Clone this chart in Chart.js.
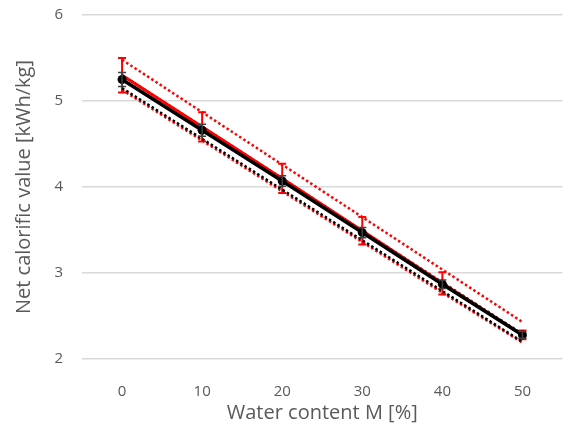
<!DOCTYPE html>
<html>
<head>
<meta charset="utf-8">
<script src="https://cdn.jsdelivr.net/npm/chart.js@4/dist/chart.umd.min.js"></script>
<style>
    html,body{margin:0;padding:0;background:#fff;overflow:hidden;}
    #chartDiv{width:567px;height:423px;position:relative;}
    #graph{display:block;}
</style>
</head>
<body>
<div id="chartDiv"><canvas id="graph"></canvas></div>
<script>
const labels = ["0","10","20","30","40","50"];
const yTicks = [2,3,4,5,6];

// measured series (black) and its band
const blackMean = [5.25, 4.66, 4.07, 3.47, 2.87, 2.28];
const blackErr = [0.08, 0.07, 0.06, 0.06, 0.05, 0.04];
const blackUpper = [5.30, 4.70, 4.10, 3.49, 2.89, 2.29];
const blackLower = [5.15, 4.56, 3.97, 3.38, 2.79, 2.20];

// second series (red) and its band
const redMean = [5.30, 4.70, 4.10, 3.49, 2.88, 2.28];
const redErr = [0.2, 0.17, 0.17, 0.16, 0.13, 0.05];
const redUpper = [5.48, 4.87, 4.26, 3.65, 3.04, 2.43];
const redLower = [5.13, 4.54, 3.95, 3.36, 2.77, 2.19];

const textColor = "#595959";
const fontFamily = "'Open Sans', 'DejaVu Sans', sans-serif";

// draws vertical error bars with caps from the arrays above
const errorBars = {
    id:"errorBars",
    drawBars(chart, means, errs, color, width){
        const ctx = chart.ctx;
        const xScale = chart.scales.x;
        const yScale = chart.scales.y;
        ctx.save();
        ctx.strokeStyle = color;
        ctx.lineWidth = width;
        means.forEach((m,i)=>{
            let x = xScale.getPixelForValue(i);
            let yTop = yScale.getPixelForValue(m + errs[i]);
            let yBot = yScale.getPixelForValue(m - errs[i]);
            ctx.beginPath();
            ctx.moveTo(x, yTop); ctx.lineTo(x, yBot);
            ctx.moveTo(x-4, yTop); ctx.lineTo(x+4, yTop);
            ctx.moveTo(x-4, yBot); ctx.lineTo(x+4, yBot);
            ctx.stroke();
        })
        ctx.restore();
    },
    beforeDatasetsDraw(chart){
        this.drawBars(chart, redMean, redErr, "#ff0000", 2);
    },
    afterDatasetsDraw(chart){
        this.drawBars(chart, blackMean, blackErr, "#404040", 1.5);
    }
};

function dotted(data, color, order){
    return {
        data:data,
        borderColor:color,
        borderWidth:2.5,
        borderDash:[2.5,2.5],
        pointRadius:0,
        fill:false,
        order:order
    };
}

new Chart(document.getElementById("graph"), {
    type:"line",
    data:{
        labels:labels,
        datasets:[
            {
                data:blackMean,
                borderColor:"#000000",
                backgroundColor:"#000000",
                borderWidth:3.5,
                pointRadius:4.5,
                pointBackgroundColor:"#000000",
                pointBorderWidth:0,
                order:0
            },
            {
                data:redMean,
                borderColor:"#ff0000",
                borderWidth:3,
                pointRadius:0,
                order:1
            },
            dotted(blackUpper, "#000000", 2),
            dotted(blackLower, "#000000", 3),
            dotted(redUpper, "#ff0000", 4),
            dotted(redLower, "#ff0000", 4)
        ]
    },
    options:{
        responsive:true,
        maintainAspectRatio:false,
        animation:false,
        layout:{padding:{top:15, right:0, left:0, bottom:0}},
        plugins:{
            legend:{display:false},
            tooltip:{enabled:false}
        },
        scales:{
            x:{
                offset:true,
                grid:{display:false},
                border:{display:false},
                ticks:{color:textColor, font:{family:fontFamily, size:15}, padding:16},
                title:{display:true, text:"Water content M [%]", color:textColor, font:{family:fontFamily, size:20, lineHeight:1}, padding:{top:0, bottom:0}},
                afterFit:(scale)=>{
                    scale.height = 64;
                    scale.paddingLeft = 0;
                    scale.paddingRight = 0;
                }
            },
            y:{
                min:2,
                max:6,
                afterBuildTicks:(scale)=>{ scale.ticks = yTicks.map(v=>({value:v})); },
                grid:{color:"#d9d9d9", lineWidth:1.5, drawTicks:false},
                border:{display:false},
                ticks:{color:textColor, font:{family:fontFamily, size:15}, padding:19},
                title:{display:true, text:"Net calorific value [kWh/kg]", color:textColor, font:{family:fontFamily, size:20, lineHeight:1}, padding:{top:14, bottom:0}},
                afterFit:(scale)=>{
                    scale.width = 82;
                    scale.paddingTop = 0;
                    scale.paddingBottom = 0;
                }
            }
        }
    },
    plugins:[errorBars]
});
</script>
</body>
</html>
